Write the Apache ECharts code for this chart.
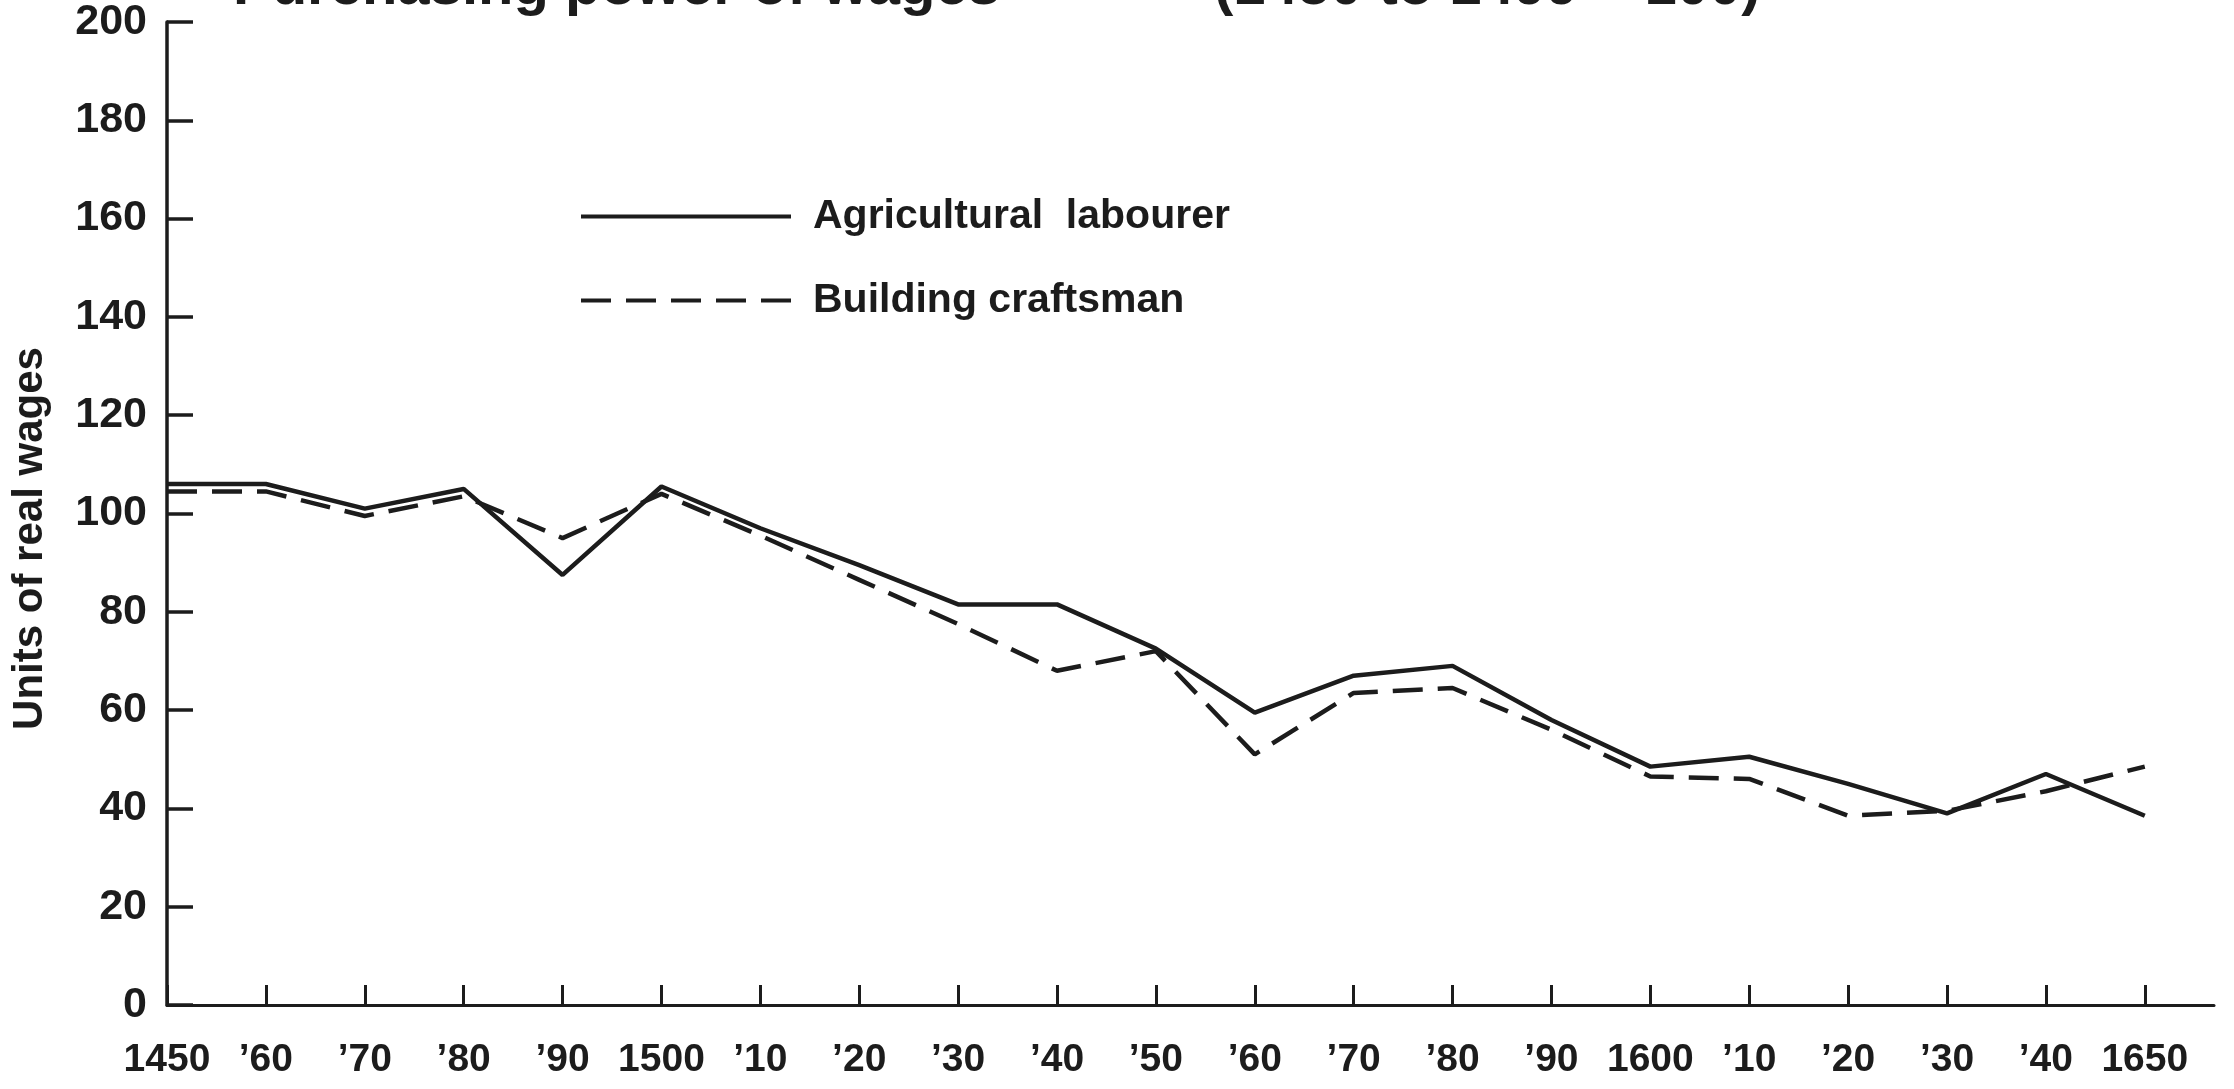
<!DOCTYPE html>
<html>
	<head>
		<meta charset="UTF-8">
		<title>Purchasing power of wages</title>
		<style>
			html,body{
				margin:0px;
				height:100%;
				background:#fff;
			}
			#wageChart {
				width:2234px;
				height:1089px;
			}
		</style>
	</head>
	<body>
		<div id="wageChart"></div>
		<script src="https://cdn.jsdelivr.net/npm/echarts@6/dist/echarts.min.js"></script>
		<script>
			// decades along the bottom
			var years = [1450,1460,1470,1480,1490,1500,1510,1520,1530,1540,1550,1560,1570,1580,1590,1600,1610,1620,1630,1640,1650];
			var yearLabels = ["1450","\u201960","\u201970","\u201980","\u201990","1500","\u201910","\u201920","\u201930","\u201940","\u201950","\u201960","\u201970","\u201980","\u201990","1600","\u201910","\u201920","\u201930","\u201940","1650"];
			// units of real wages
			var agricultural = [106,106,101,105,87.5,105.5,97,89.5,81.5,81.5,72.5,59.5,67,69,58,48.5,50.5,45,39,47,38.5];
			var building = [104.5,104.5,99.5,103.5,95,104,95.5,86.5,77.5,68,72,51,63.5,64.5,56,46.5,46,38.5,39.5,43.5,48.5];
			var seriesNames = ["Agricultural  labourer","Building craftsman"];

			var ink = '#1c1c1c';
			var font = 'Liberation Sans, Arial, sans-serif';

			function pairs(vals) {
				var res = [];
				for (var i = 0; i < years.length; i++) {
					res.push([years[i], vals[i]]);
				}
				return res;
			}

			var wageChart = echarts.init(document.getElementById('wageChart'));
			var option = {
				backgroundColor: '#fff',
				animation: false,
				title: {
					text: '{a|Purchasing power of wages}{b|(1450 to 1499 = 100)}',
					left: 228,
					top: -46,
					textStyle: {
						color: ink,
						fontFamily: font,
						fontWeight: 'bold',
						fontSize: 58,
						rich: {
							a: { fontFamily: font, fontWeight: 'bold', fontSize: 58, color: ink, width: 981 },
							b: { fontFamily: font, fontWeight: 'bold', fontSize: 58, color: ink }
						}
					}
				},
				grid: {
					left: 167,
					right: 20,
					top: 22,
					bottom: 84,
					outerBoundsMode: 'none'
				},
				legend: {
					orient: 'vertical',
					left: 574,
					top: 191,
					itemWidth: 210,
					itemHeight: 24,
					itemGap: 43,
					data: seriesNames,
					itemStyle: { color: 'rgba(0,0,0,0)', borderWidth: 0 },
					lineStyle: { width: 4, color: ink },
					textStyle: {
						color: ink,
						fontFamily: font,
						fontWeight: 'bold',
						fontSize: 41,
						padding: [0, 0, 0, 17]
					}
				},
				xAxis: {
					type: 'value',
					min: 1450,
					max: 1657,
					interval: 10,
					splitLine: { show: false },
					axisLine: {
						lineStyle: { color: ink, width: 3 }
					},
					axisTick: {
						inside: true,
						length: 20,
						customValues: years,
						lineStyle: { color: ink, width: 3 }
					},
					axisLabel: {
						customValues: years,
						margin: 36,
						color: ink,
						fontFamily: font,
						fontWeight: 'bold',
						fontSize: 39,
						formatter: function (v) {
							var i = years.indexOf(v);
							return i == -1 ? '' : yearLabels[i];
						}
					}
				},
				yAxis: {
					type: 'value',
					min: 0,
					max: 200,
					interval: 20,
					name: 'Units of real wages',
					nameLocation: 'middle',
					nameGap: 116,
					nameRotate: 90,
					nameTextStyle: {
						color: ink,
						fontFamily: font,
						fontWeight: 'bold',
						fontSize: 42,
						padding: [0, 50, 0, 0]
					},
					splitLine: { show: false },
					axisLine: {
						show: true,
						lineStyle: { color: ink, width: 3.5 }
					},
					axisTick: {
						show: true,
						inside: true,
						length: 26,
						lineStyle: { color: ink, width: 3.5 }
					},
					axisLabel: {
						margin: 20,
						color: ink,
						fontFamily: font,
						fontWeight: 'bold',
						fontSize: 43
					}
				},
				series: [
					{
						name: seriesNames[0],
						type: 'line',
						symbol: 'none',
						data: pairs(agricultural),
						lineStyle: { color: ink, width: 4.5, type: 'solid' },
						itemStyle: { color: ink }
					},
					{
						name: seriesNames[1],
						type: 'line',
						symbol: 'none',
						data: pairs(building),
						lineStyle: { color: ink, width: 4.5, type: [30, 15] },
						itemStyle: { color: ink }
					}
				]
			};
			wageChart.setOption(option, true);
		</script>
	</body>
</html>
